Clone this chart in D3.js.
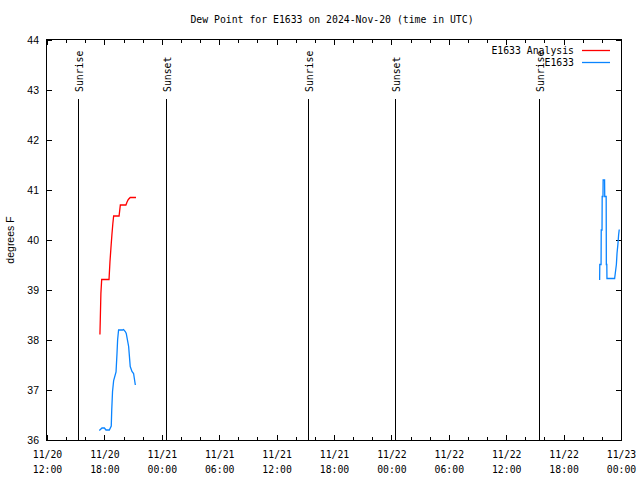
<!DOCTYPE html>
<html><head><meta charset="utf-8">
<script src="https://cdn.jsdelivr.net/npm/d3@7"></script>
<style>
body{margin:0;background:#fff}
svg{display:block}
</style></head>
<body>
<svg id="chart" width="640" height="480"></svg>
<script>
const titleText = "Dew Point for E1633 on 2024-Nov-20 (time in UTC)";
const yLabel = "degrees F";
const seriesNames = ["E1633 Analysis", "E1633"];
const seriesColors = ["#ff0000", "#0a84ff"];
const yTicks = [36, 37, 38, 39, 40, 41, 42, 43, 44];

// Analysis (red)
const analysisTimes = ["2024-11-20T17:32","2024-11-20T17:34","2024-11-20T17:38","2024-11-20T17:43","2024-11-20T18:29",
  "2024-11-20T18:35","2024-11-20T18:41","2024-11-20T18:47","2024-11-20T18:53","2024-11-20T18:58","2024-11-20T19:32",
  "2024-11-20T19:40","2024-11-20T20:15","2024-11-20T20:22","2024-11-20T20:30","2024-11-20T20:42","2024-11-20T21:18"];
const analysisValues = [38.11,38.38,38.93,39.21,39.21,39.57,39.84,40.10,40.33,40.48,40.48,40.70,40.70,40.76,40.81,40.85,40.85];

// Observations (blue), null marks a gap
const obsTimes = ["2024-11-20T17:28","2024-11-20T17:45","2024-11-20T18:00","2024-11-20T18:10","2024-11-20T18:31",
  "2024-11-20T18:43","2024-11-20T18:46","2024-11-20T18:51","2024-11-20T18:58","2024-11-20T19:13","2024-11-20T19:19",
  "2024-11-20T19:23","2024-11-20T19:29","2024-11-20T19:54","2024-11-20T20:00","2024-11-20T20:11","2024-11-20T20:17",
  "2024-11-20T20:32","2024-11-20T20:42","2024-11-20T20:53","2024-11-20T21:03","2024-11-20T21:14",
  "2024-11-21T12:00",
  "2024-11-22T21:46","2024-11-22T21:47","2024-11-22T21:55","2024-11-22T21:56","2024-11-22T22:01","2024-11-22T22:02",
  "2024-11-22T22:07","2024-11-22T22:08","2024-11-22T22:17","2024-11-22T22:18","2024-11-22T22:27","2024-11-22T22:28",
  "2024-11-22T22:31","2024-11-22T22:32","2024-11-22T22:38","2024-11-22T23:20","2024-11-22T23:24","2024-11-22T23:31",
  "2024-11-22T23:35","2024-11-22T23:41","2024-11-22T23:45","2024-11-22T23:49"];
const obsValues = [36.19,36.24,36.24,36.20,36.20,36.28,36.60,36.97,37.19,37.36,37.73,38.01,38.20,38.20,38.21,38.17,38.13,
  37.87,37.47,37.37,37.33,37.10,
  null,
  39.20,39.51,39.51,40.20,40.20,40.87,40.87,41.20,41.20,40.87,40.87,39.51,39.51,39.23,39.23,39.23,39.33,39.51,
  39.73,39.93,40.10,40.21];

const sunEvents = ["Sunrise","Sunset","Sunrise","Sunset","Sunrise"];
const sunTimes = ["2024-11-20T15:12","2024-11-21T00:24","2024-11-21T15:18","2024-11-22T00:24","2024-11-22T15:24"];

const xStart = "2024-11-20T12:00", xEnd = "2024-11-23T00:00";

const parse = s => new Date(s + ":00Z");
const svg = d3.select("#chart");
const L = 47, R = 621, T = 40, B = 440;
const x = d3.scaleUtc().domain([parse(xStart), parse(xEnd)]).range([L, R]);
const y = d3.scaleLinear().domain([36, 44]).range([B, T]);

const mono = "'DejaVu Sans Mono', 'Liberation Mono', monospace";
const sans = "'Liberation Sans', Arial, sans-serif";

// minor ticks (2h), bottom and top
const minorTicks = d3.utcHour.every(2).range(parse(xStart), d3.utcMinute.offset(parse(xEnd), 1));
svg.append("g").attr("transform", `translate(0,${B})`)
  .call(d3.axisBottom(x).tickValues(minorTicks).tickSize(-3).tickFormat(""))
  .call(g => g.select(".domain").remove());
svg.append("g").attr("transform", `translate(0,${T})`)
  .call(d3.axisTop(x).tickValues(minorTicks).tickSize(-3).tickFormat(""))
  .call(g => g.select(".domain").remove());

// major ticks (6h)
const majorTicks = d3.utcHour.every(6).range(parse(xStart), d3.utcMinute.offset(parse(xEnd), 1));
const fmtDate = d3.utcFormat("%m/%d"), fmtTime = d3.utcFormat("%H:%M");
const xb = svg.append("g").attr("transform", `translate(0,${B})`)
  .call(d3.axisBottom(x).tickValues(majorTicks).tickSize(-5).tickPadding(18).tickFormat(d => fmtDate(d)))
  .call(g => g.select(".domain").remove());
xb.selectAll(".tick text").each(function(d) {
  const t = d3.select(this);
  t.text(null);
  t.append("tspan").attr("x", 0).attr("dy", "0em").text(fmtDate(d));
  t.append("tspan").attr("x", 0).attr("dy", "1.55em").text(fmtTime(d));
});
xb.selectAll("text").attr("font-family", mono).attr("font-size", 9.8).attr("fill", "#000");
svg.append("g").attr("transform", `translate(0,${T})`)
  .call(d3.axisTop(x).tickValues(majorTicks).tickSize(-5).tickFormat(""))
  .call(g => g.select(".domain").remove());

// y axes
const yl = svg.append("g").attr("transform", `translate(${L},0)`)
  .call(d3.axisLeft(y).tickValues(yTicks).tickSize(-5).tickPadding(8).tickFormat(d3.format("d")))
  .call(g => g.select(".domain").remove());
yl.selectAll("text").attr("font-family", sans).attr("font-size", 10.5).attr("fill", "#000");
svg.append("g").attr("transform", `translate(${R},0)`)
  .call(d3.axisRight(y).tickValues(yTicks).tickSize(-5).tickFormat(""))
  .call(g => g.select(".domain").remove());
svg.selectAll(".tick line").attr("stroke", "#000").attr("shape-rendering", "crispEdges");

// sunrise/sunset
sunTimes.forEach((t, i) => {
  const xp = Math.round(x(parse(t))) + 0.5;
  svg.append("line").attr("x1", xp).attr("x2", xp).attr("y1", 99).attr("y2", B)
    .attr("stroke", "#000").attr("stroke-width", 1);
  svg.append("text").attr("transform", `translate(${xp + 4},92) rotate(-90)`)
    .attr("font-family", mono).attr("font-size", 9.8).attr("text-anchor", "start")
    .text(sunEvents[i]);
});

// lines
const line = d3.line().defined(d => d[1] != null).x(d => x(d[0])).y(d => y(d[1]));
const anaData = analysisTimes.map((t, i) => [parse(t), analysisValues[i]]);
const obsData = obsTimes.map((t, i) => [parse(t), obsValues[i]]);
svg.append("path").datum(obsData).attr("d", line).attr("fill", "none")
  .attr("stroke", seriesColors[1]).attr("stroke-width", 1.3);
svg.append("path").datum(anaData).attr("d", line).attr("fill", "none")
  .attr("stroke", seriesColors[0]).attr("stroke-width", 1.3);

// frame
svg.append("rect").attr("x", L - 0.5).attr("y", T - 0.5).attr("width", R - L + 1).attr("height", B - T + 1)
  .attr("fill", "none").attr("stroke", "#000").attr("stroke-width", 1);

// title
svg.append("text").attr("x", 332).attr("y", 23).attr("text-anchor", "middle")
  .attr("font-family", mono).attr("font-size", 9.8).text(titleText);

// y label
svg.append("text").attr("transform", "translate(14,240) rotate(-90)").attr("text-anchor", "middle")
  .attr("font-family", sans).attr("font-size", 10.5).text(yLabel);

// legend
const legY = [50, 62];
seriesNames.forEach((n, i) => {
  svg.append("text").attr("x", 574).attr("y", legY[i] + 3.5).attr("text-anchor", "end")
    .attr("font-family", mono).attr("font-size", 9.8).text(n);
  svg.append("line").attr("x1", 582).attr("x2", 610).attr("y1", legY[i] + 0.5).attr("y2", legY[i] + 0.5)
    .attr("stroke", seriesColors[i]).attr("stroke-width", 1.3);
});
</script>
</body></html>
